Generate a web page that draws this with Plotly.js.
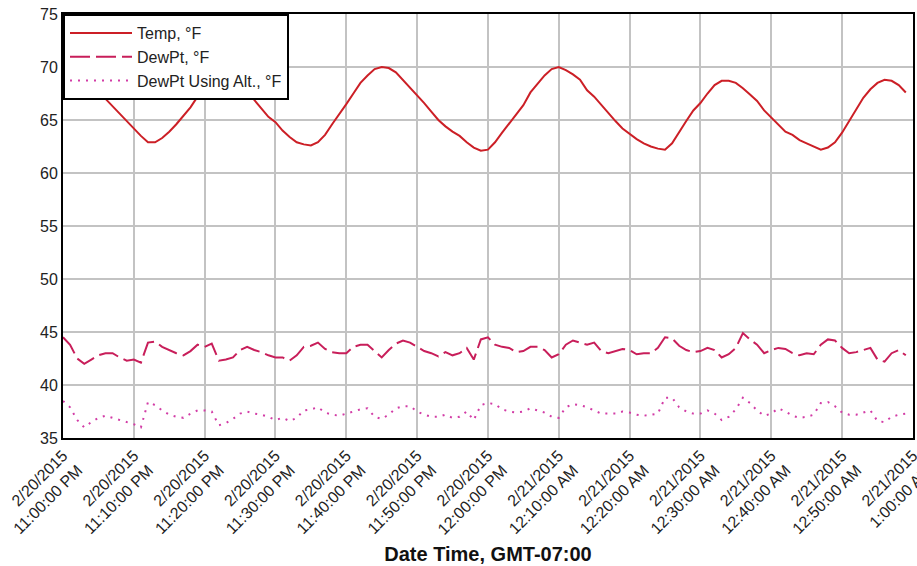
<!DOCTYPE html>
<html>
<head>
<meta charset="utf-8">
<script src="https://cdn.plot.ly/plotly-3.0.1.min.js"></script>
<style>html,body{margin:0;padding:0;background:#fff;}#chart{width:917px;height:566px;}</style>
</head>
<body>
<div id="chart"></div>
<script>
// one reading per minute starting 2/20/2015 11:00 PM
var startTime = "2015-02-20 23:00:00";
var tempF = [69.6,69.3,69.0,68.6,68.2,67.7,67.0,66.2,65.5,64.8,
  64.1,63.5,62.9,62.9,63.3,63.9,64.6,65.4,66.2,67.2,
  68.2,69.0,69.6,69.8,69.4,68.6,67.6,66.9,66.1,65.3,
  64.8,64.0,63.4,62.9,62.7,62.6,62.9,63.6,64.6,65.5,
  66.5,67.5,68.5,69.2,69.8,70.0,69.9,69.5,68.8,68.1,
  67.3,66.6,65.8,65.0,64.4,63.9,63.5,62.9,62.4,62.1,
  62.2,62.9,63.8,64.7,65.6,66.4,67.6,68.4,69.2,69.8,
  70.0,69.7,69.3,68.8,67.8,67.2,66.4,65.7,64.9,64.2,
  63.7,63.2,62.8,62.5,62.3,62.2,62.8,63.9,64.9,65.9,
  66.6,67.5,68.3,68.7,68.7,68.5,68.0,67.4,66.8,65.9,
  65.2,64.5,63.9,63.6,63.1,62.8,62.5,62.2,62.4,62.9,
  63.8,64.9,66.1,67.1,67.9,68.5,68.8,68.7,68.3,67.6];
var dewPtF = [44.5,43.8,42.5,42.0,42.4,42.8,43.0,43.0,42.6,42.3,
  42.4,42.1,44.0,44.1,43.6,43.3,43.0,42.8,43.2,43.8,
  43.6,43.9,42.3,42.4,42.6,43.3,43.6,43.3,43.1,42.8,
  42.6,42.6,42.3,42.8,43.6,43.7,44.0,43.4,43.1,43.0,
  43.0,43.6,43.8,43.8,43.2,42.6,43.3,43.9,44.2,44.0,
  43.6,43.2,43.0,42.7,43.1,42.8,43.0,43.5,42.4,44.3,
  44.5,43.8,43.6,43.5,43.1,43.2,43.6,43.6,43.3,42.6,
  42.9,43.8,44.2,44.0,43.8,44.0,43.2,43.0,43.2,43.4,
  43.3,42.9,43.0,43.0,43.5,44.5,44.4,43.7,43.3,43.1,
  43.2,43.5,43.3,42.6,42.9,43.5,44.9,44.3,43.8,43.0,
  43.3,43.5,43.4,43.0,42.8,43.0,42.9,43.8,44.3,44.2,
  43.5,43.0,43.1,43.3,43.5,42.4,42.2,43.0,43.3,42.8];
var dewPtAltF = [38.5,37.9,36.7,36.0,36.5,36.9,37.1,36.9,36.7,36.5,
  36.3,36.0,38.4,38.1,37.6,37.2,37.0,36.9,37.3,37.6,
  37.6,37.5,36.2,36.4,36.8,37.3,37.5,37.3,37.2,37.0,
  36.7,36.9,36.6,36.9,37.6,37.7,37.9,37.4,37.2,37.1,
  37.3,37.5,37.7,37.8,37.0,36.8,37.2,37.8,38.0,38.0,
  37.5,37.2,37.0,37.0,37.2,36.9,37.0,37.5,36.7,38.1,
  38.3,38.2,37.7,37.5,37.4,37.5,37.8,37.6,37.4,37.0,
  36.9,37.9,38.2,38.1,37.9,37.6,37.3,37.3,37.3,37.5,
  37.4,37.2,37.1,37.2,37.3,38.8,38.8,37.9,37.5,37.3,
  37.3,37.6,37.3,36.7,37.0,37.7,38.8,38.3,37.6,37.1,
  37.3,37.8,37.5,37.1,36.9,37.0,37.2,38.3,38.4,38.0,
  37.4,37.2,37.2,37.4,37.6,36.6,36.5,37.0,37.2,37.3];
var seriesNames = ["Temp, \u00B0F", "DewPt, \u00B0F", "DewPt Using Alt., \u00B0F"];
var tickVals = ["2015-02-20 23:00:00","2015-02-20 23:10:00","2015-02-20 23:20:00","2015-02-20 23:30:00",
  "2015-02-20 23:40:00","2015-02-20 23:50:00","2015-02-21 00:00:00","2015-02-21 00:10:00",
  "2015-02-21 00:20:00","2015-02-21 00:30:00","2015-02-21 00:40:00","2015-02-21 00:50:00","2015-02-21 01:00:00"];
var tickText = ["2/20/2015<br>11:00:00 PM","2/20/2015<br>11:10:00 PM","2/20/2015<br>11:20:00 PM","2/20/2015<br>11:30:00 PM",
  "2/20/2015<br>11:40:00 PM","2/20/2015<br>11:50:00 PM","2/20/2015<br>12:00:00 PM","2/21/2015<br>12:10:00 AM",
  "2/21/2015<br>12:20:00 AM","2/21/2015<br>12:30:00 AM","2/21/2015<br>12:40:00 AM","2/21/2015<br>12:50:00 AM","2/21/2015<br>1:00:00 AM"];
var xTitle = "Date Time, GMT-07:00";

function pad(n){return (n<10?"0":"")+n;}
var t0 = new Date(startTime.replace(" ","T")+"Z").getTime();
var times = tempF.map(function(_,i){
  var d = new Date(t0 + i*60000);
  return d.getUTCFullYear()+"-"+pad(d.getUTCMonth()+1)+"-"+pad(d.getUTCDate())+" "+pad(d.getUTCHours())+":"+pad(d.getUTCMinutes())+":00";
});

var font = "Liberation Sans, Arial, sans-serif";
var traces = [
  {x: times, y: tempF, name: seriesNames[0], type: "scatter", mode: "lines",
   line: {color: "#cc1f26", width: 2}},
  {x: times, y: dewPtF, name: seriesNames[1], type: "scatter", mode: "lines",
   line: {color: "#c81e5a", width: 2, dash: "20px,6px"}},
  {x: times, y: dewPtAltF, name: seriesNames[2], type: "scatter", mode: "lines",
   line: {color: "#d23ca6", width: 2, dash: "2px,6px"}}
];
var layout = {
  width: 917, height: 566,
  margin: {l: 63, r: 4, t: 14, b: 128},
  paper_bgcolor: "#fff", plot_bgcolor: "#fff",
  font: {family: font, size: 16, color: "#222"},
  showlegend: true,
  legend: {x: 0, y: 1, xanchor: "left", yanchor: "top", bgcolor: "#fff",
    bordercolor: "#000", borderwidth: 2, font: {family: font, size: 16, color: "#222"},
    itemwidth: 62, tracegroupgap: 0},
  xaxis: {type: "date", range: ["2015-02-20 23:00:00","2015-02-21 01:00:01"],
    tickmode: "array", tickvals: tickVals, ticktext: tickText, tickangle: -45,
    ticklabeloverflow: "allow",
    showgrid: true, gridcolor: "#c3c3c3", gridwidth: 2,
    showline: true, linecolor: "#000", linewidth: 2, mirror: true,
    ticks: "", zeroline: false, automargin: false,
    tickfont: {family: font, size: 16, color: "#222"},
    title: {text: "<b>" + xTitle + "</b>", font: {family: font, size: 20, color: "#111"}, standoff: 10}},
  yaxis: {range: [35, 75], tickmode: "linear", tick0: 35, dtick: 5,
    showgrid: true, gridcolor: "#c3c3c3", gridwidth: 2,
    showline: true, linecolor: "#000", linewidth: 2, mirror: true,
    ticks: "", zeroline: false, automargin: false,
    tickfont: {family: font, size: 16, color: "#222"}}
};
Plotly.newPlot("chart", traces, layout, {displayModeBar: false, staticPlot: true});
</script>
</body>
</html>
